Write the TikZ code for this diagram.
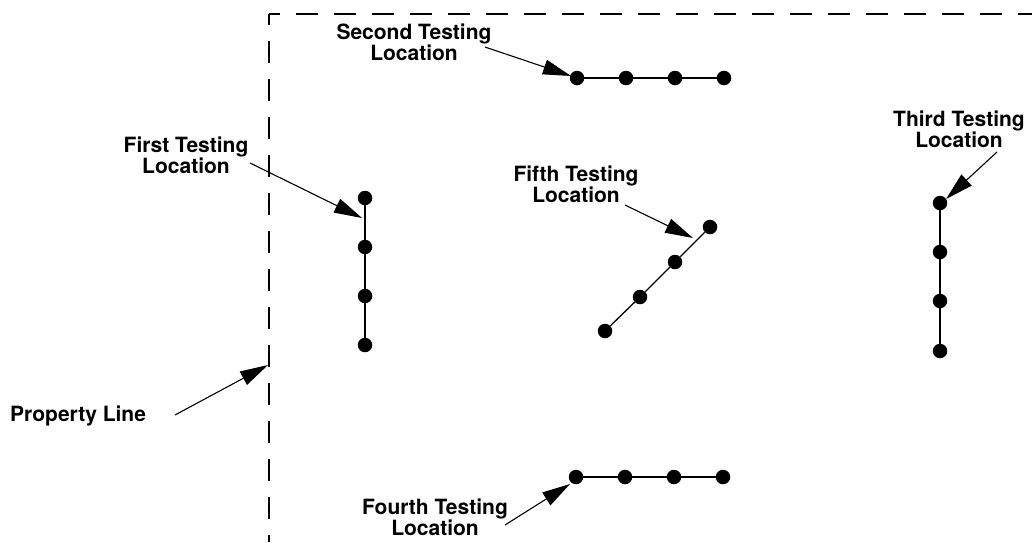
\documentclass[tikz,border=0pt]{standalone}
\usepackage{fontspec}
\setmainfont{TeX Gyre Heros}
\usetikzlibrary{arrows.meta}
\tikzset{
  dot/.style={circle,fill=black,inner sep=0pt,minimum size=14.5pt},
  seg/.style={line width=2pt},
  thinseg/.style={line width=1.3pt},
  pointer/.style={line width=1.1pt,-{Triangle[length=28pt,width=15pt]}},
  prop/.style={line width=2.2pt,dash pattern=on 22pt off 16pt,dash phase=11pt},
  lbl/.style={font=\fontsize{21}{19.5}\selectfont\bfseries,align=center,inner sep=0pt}
}
\begin{document}
\begin{tikzpicture}[x=1pt,y=-1pt]
\useasboundingbox (0,0) rectangle (1032,542);
% property line
\coordinate (corner) at (269,14);
\coordinate (pbot) at (269,542);
\coordinate (pright) at (1034,14);
\draw[prop] (corner) -- (pbot);
\draw[prop] (corner) -- (pright);

% first testing location
\node[dot] (f1) at (365,198) {};
\node[dot] (f2) at (365,247) {};
\node[dot] (f3) at (365,296) {};
\node[dot] (f4) at (365,345) {};
\draw[seg] (f1) -- (f2) -- (f3) -- (f4);

% second
\node[dot] (s1) at (577,78) {};
\node[dot] (s2) at (626,78) {};
\node[dot] (s3) at (675,78) {};
\node[dot] (s4) at (724,78) {};
\draw[seg] (s1) -- (s2) -- (s3) -- (s4);

% third
\node[dot] (t1) at (940,203) {};
\node[dot] (t2) at (940,252) {};
\node[dot] (t3) at (940,301) {};
\node[dot] (t4) at (940,351) {};
\draw[seg] (t1) -- (t2) -- (t3) -- (t4);

% fourth
\node[dot] (q1) at (576,477) {};
\node[dot] (q2) at (625,477) {};
\node[dot] (q3) at (674,477) {};
\node[dot] (q4) at (723,477) {};
\draw[seg] (q1) -- (q2) -- (q3) -- (q4);

% fifth
\node[dot] (v1) at (605,331) {};
\node[dot] (v2) at (640,297) {};
\node[dot] (v3) at (675,262) {};
\node[dot] (v4) at (710,227) {};
\draw[thinseg] (v1) -- (v2) -- (v3) -- (v4);

% labels
\node[lbl] (lfirst) at (186,155) {First Testing\\Location};
\node[lbl] (lsecond) at (414,42) {Second Testing\\Location};
\node[lbl] (lthird) at (959,129) {Third Testing\\Location};
\node[lbl] (lfifth) at (576,184) {Fifth Testing\\Location};
\node[lbl] (lfourth) at (435,517) {Fourth Testing\\Location};
\node[lbl,anchor=base west] (lprop) at (10,421) {Property Line};

% pointer coordinates
\coordinate (afirst) at (250,163);   \coordinate (bfirst) at (362,218);
\coordinate (asecond) at (485,47);   \coordinate (bsecond) at (571,76);
\coordinate (athird) at (997,152);   \coordinate (bthird) at (946,199);
\coordinate (afifth) at (625,205);   \coordinate (bfifth) at (693,238);
\coordinate (aprop) at (175,415);    \coordinate (bprop) at (268,365);
\coordinate (afourth) at (505,525);  \coordinate (bfourth) at (570,484);

\draw[pointer] (afirst) -- (bfirst);
\draw[pointer] (asecond) -- (bsecond);
\draw[pointer] (athird) -- (bthird);
\draw[pointer] (afifth) -- (bfifth);
\draw[pointer] (aprop) -- (bprop);
\draw[pointer] (afourth) -- (bfourth);
\end{tikzpicture}
\end{document}
